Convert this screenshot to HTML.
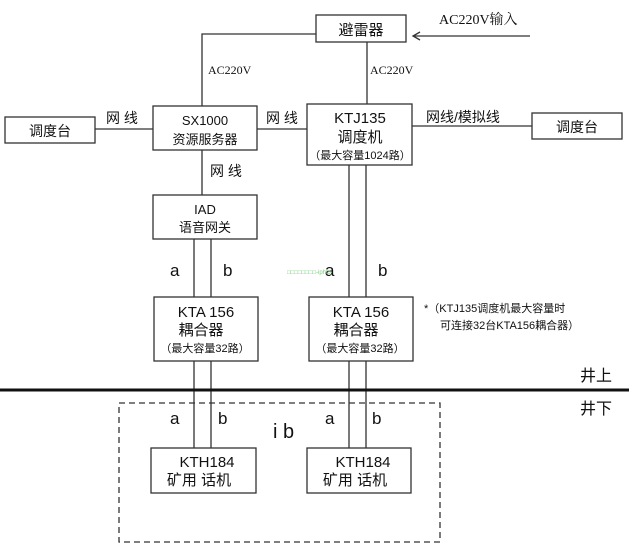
<!DOCTYPE html>
<html><head><meta charset="utf-8"><style>
html,body{margin:0;padding:0;background:#fff;width:629px;height:544px;overflow:hidden}
svg text{font-family:"Liberation Sans","Noto Sans CJK SC",sans-serif;fill:#111}
.s{font-family:"Liberation Serif","Noto Serif CJK SC",serif}
</style></head><body>
<svg width="629" height="544" viewBox="0 0 629 544" xmlns="http://www.w3.org/2000/svg">
<g fill="none" stroke="#333" stroke-width="1.3">
<rect x="316" y="15" width="90" height="27"/>
<rect x="5" y="117" width="90" height="26"/>
<rect x="153" y="106" width="104" height="44"/>
<rect x="307" y="104" width="105" height="61"/>
<rect x="532" y="113" width="90" height="26"/>
<rect x="153" y="195" width="104" height="44"/>
<rect x="154" y="297" width="104" height="64"/>
<rect x="309" y="297" width="104" height="64"/>
<rect x="151" y="448" width="105" height="45"/>
<rect x="307" y="448" width="104" height="45"/>
<polyline points="202,106 202,34 316,34"/>
<line x1="367" y1="42" x2="367" y2="104"/>
<line x1="95" y1="129" x2="153" y2="129"/>
<line x1="257" y1="129" x2="307" y2="129"/>
<line x1="412" y1="126" x2="532" y2="126"/>
<line x1="202" y1="150" x2="202" y2="195"/>
<line x1="194" y1="239" x2="194" y2="297"/>
<line x1="211" y1="239" x2="211" y2="297"/>
<line x1="349" y1="165" x2="349" y2="297"/>
<line x1="366" y1="165" x2="366" y2="297"/>
<line x1="194" y1="361" x2="194" y2="448"/>
<line x1="211" y1="361" x2="211" y2="448"/>
<line x1="349" y1="361" x2="349" y2="448"/>
<line x1="366" y1="361" x2="366" y2="448"/>
<line x1="530" y1="36" x2="413" y2="36"/>
<polyline points="420,32 413,36 420,40"/>
<rect x="119" y="403" width="321" height="139" stroke-dasharray="6,4"/>
</g>
<line x1="0" y1="390" x2="629" y2="390" stroke="#111" stroke-width="3"/>
<g font-size="14" text-anchor="middle">
<text x="361" y="35" font-size="15">避雷器</text>
<text x="50" y="136">调度台</text>
<text x="577" y="132">调度台</text>
<text x="205" y="125" font-size="13">SX1000</text>
<text x="205" y="144" font-size="13">资源服务器</text>
<text x="360" y="123" font-size="15">KTJ135</text>
<text x="360" y="142" font-size="15">调度机</text>
<text x="360" y="159" font-size="11">（最大容量1024路）</text>
<text x="205" y="214" font-size="13">IAD</text>
<text x="205" y="232" font-size="13">语音网关</text>
<text x="206" y="317" font-size="15">KTA 156</text>
<text x="201" y="335" font-size="15">耦合器</text>
<text x="205" y="352" font-size="11">（最大容量32路）</text>
<text x="361" y="317" font-size="15">KTA 156</text>
<text x="356" y="335" font-size="15">耦合器</text>
<text x="360" y="352" font-size="11">（最大容量32路）</text>
<text x="207" y="467" font-size="15">KTH184</text>
<text x="199" y="485" font-size="15">矿用 话机</text>
<text x="363" y="467" font-size="15">KTH184</text>
<text x="355" y="485" font-size="15">矿用 话机</text>
</g>
<g font-size="13">
<text class="s" x="439" y="24" font-size="14">AC220V输入</text>
<text class="s" x="208" y="74" font-size="12">AC220V</text>
<text class="s" x="370" y="74" font-size="12">AC220V</text>
<text x="106" y="123" font-size="14">网 线</text>
<text x="266" y="123" font-size="14">网 线</text>
<text x="210" y="176" font-size="14">网 线</text>
<text x="426" y="122" font-size="14">网线/模拟线</text>
<text x="170" y="276" font-size="17">a</text>
<text x="223" y="276" font-size="17">b</text>
<text x="325" y="276" font-size="17">a</text>
<text x="378" y="276" font-size="17">b</text>
<text x="287" y="274" font-size="6" fill="#8d8" style="fill:#7c7">□□□□□□□□-iphlo</text>
<text x="424" y="312" font-size="11">*（KTJ135调度机最大容量时</text>
<text x="440" y="329" font-size="11">可连接32台KTA156耦合器）</text>
<text x="580" y="381" font-size="16">井上</text>
<text x="580" y="414" font-size="16">井下</text>
<text x="170" y="424" font-size="17">a</text>
<text x="218" y="424" font-size="17">b</text>
<text x="325" y="424" font-size="17">a</text>
<text x="372" y="424" font-size="17">b</text>
<text x="273" y="438" font-size="20">i b</text>
</g>
</svg>
</body></html>
